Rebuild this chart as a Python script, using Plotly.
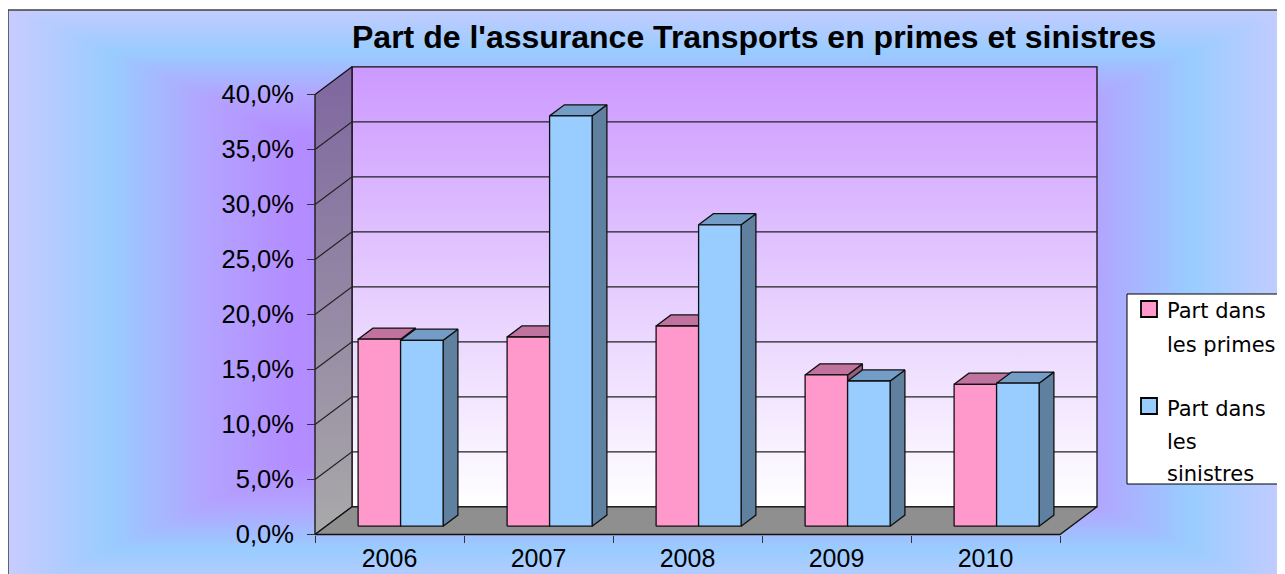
import numpy as np
import plotly.graph_objects as go

# ---------------- data ----------------
years = ["2006", "2007", "2008", "2009", "2010"]
primes = [17.0, 17.2, 18.2, 13.75, 12.9]          # Part dans les primes (%)
sinistres = [16.9, 37.3, 27.4, 13.2, 13.0]        # Part dans les sinistres (%)
ytick_vals = [0, 5, 10, 15, 20, 25, 30, 35, 40]
ytick_text = ["0,0%", "5,0%", "10,0%", "15,0%", "20,0%", "25,0%", "30,0%", "35,0%", "40,0%"]
title_text = "Part de l'assurance Transports en primes et sinistres"
legend_lines_primes = ["Part dans", "les primes"]
legend_lines_sinistres = ["Part dans", "les", "sinistres"]

# ---------------- geometry / style ----------------
PAGE_OFF = 8            # default page margin around the figure
W, H = 1285 - PAGE_OFF, 574 - PAGE_OFF

def px(x):              # page pixel x -> paper fraction
    return (x - PAGE_OFF) / W
def py(y):              # page pixel y -> paper fraction
    return 1 - (y - PAGE_OFF) / H

PXU = 149.0     # pixels per category
PYU = 11.0      # pixels per percent point
X0 = 389.5      # page x of first category centre (front plane)
Y0 = 534.5      # page y of 0% (front plane)
DX = 37.0 / PXU       # full depth offset, x (data units)
DY = 27.7 / PYU       # full depth offset, y (data units)
BAR_W = 42.5 / PXU
F_FRONT = 0.3
F_DEPTH = 0.4
AX_L, AX_R, AX_T, AX_B = 310, 1105, 55, 540
YMAX = ytick_vals[-1]
n = len(years)
XL, XR = -0.5, n - 0.5

PINK, PINK_TOP, PINK_SIDE = "#ff99cc", "#c0739f", "#995c7a"
BLUE, BLUE_TOP, BLUE_SIDE = "#99ccff", "#739cc6", "#6080a0"
EDGE = dict(color="#111111", width=1.3)
AXFONT = dict(family="Liberation Sans, Arial", size=25.5, color="black")
XFONT = dict(family="Liberation Sans, Arial", size=25, color="black")
LEGFONT = dict(family="Comic Sans MS, DejaVu Sans", size=21, color="black")

fig = go.Figure()

# ---------------- outer gradient background (decorative) ----------------
gx = np.linspace(8, 1285, 130)
gy = np.linspace(10, 574, 60)
GX, GY = np.meshgrid(gx, gy)
tt = np.maximum(np.abs(GX - 650) / 650.0, np.abs(GY - 300) / 300.0)
fig.add_trace(go.Heatmap(
    x=gx, y=gy, z=tt, zmin=0, zmax=1, zsmooth="best", showscale=False, hoverinfo="skip",
    colorscale=[[0, "#a680ff"], [0.55, "#b38cff"], [0.68, "#b3a3ff"], [0.83, "#99ccff"], [1, "#ccccff"]],
    xaxis="x", yaxis="y"))

def poly(xs, ys, **kw):
    return go.Scatter(x=xs, y=ys, mode="lines", fill="toself", line=EDGE,
                      hoverinfo="skip", showlegend=False, xaxis="x2", yaxis="y2", **kw)

# back wall
fig.add_trace(poly([XL + DX, XR + DX, XR + DX, XL + DX, XL + DX],
                   [DY, DY, YMAX + DY, YMAX + DY, DY],
                   fillgradient=dict(type="vertical", colorscale=[[0, "#ffffff"], [1, "#cc99ff"]])))
# left wall
fig.add_trace(poly([XL, XL, XL + DX, XL + DX, XL],
                   [0, YMAX, YMAX + DY, DY, 0],
                   fillgradient=dict(type="vertical", colorscale=[[0, "#a9a9a9"], [1, "#7f66a0"]])))
# floor
fig.add_trace(poly([XL, XR, XR + DX, XL + DX, XL], [0, 0, DY, DY, 0], fillcolor="#8f8f8f"))

# gridlines (left wall + back wall)
gxs, gys = [], []
for v in ytick_vals[1:-1]:
    gxs += [XL, XL + DX, XR + DX, None]
    gys += [v, v + DY, v + DY, None]
fig.add_trace(go.Scatter(x=gxs, y=gys, mode="lines", line=dict(color="#222222", width=1.2),
                         hoverinfo="skip", showlegend=False, xaxis="x2", yaxis="y2"))

# ---------------- 3D bars ----------------
def bar_faces(values, shift):
    fx, fy, tx, ty, sx, sy = [], [], [], [], [], []
    b = F_FRONT * DY
    ddx, ddy = F_DEPTH * DX, F_DEPTH * DY
    for i, v in enumerate(values):
        xl = i + F_FRONT * DX + shift
        xr = xl + BAR_W
        top = b + v
        fx += [xl, xr, xr, xl, xl, None]
        fy += [b, b, top, top, b, None]
        tx += [xl, xr, xr + ddx, xl + ddx, xl, None]
        ty += [top, top, top + ddy, top + ddy, top, None]
        sx += [xr, xr, xr + ddx, xr + ddx, xr, None]
        sy += [b, top, top + ddy, b + ddy, b, None]
    return (fx, fy), (tx, ty), (sx, sy)

for vals, shift, cf, ct, cs in [(primes, -BAR_W, PINK, PINK_TOP, PINK_SIDE),
                                (sinistres, 0.0, BLUE, BLUE_TOP, BLUE_SIDE)]:
    front, topf, side = bar_faces(vals, shift)
    fig.add_trace(poly(side[0], side[1], fillcolor=cs))
    fig.add_trace(poly(topf[0], topf[1], fillcolor=ct))
    fig.add_trace(poly(front[0], front[1], fillcolor=cf))

# ---------------- layout ----------------
xr2 = [(AX_L - X0) / PXU, (AX_R - X0) / PXU]
yr2 = [(Y0 - AX_B) / PYU, (Y0 - AX_T) / PYU]

fig.update_layout(
    width=W, height=H, autosize=False,
    margin=dict(l=0, r=0, t=0, b=0, pad=0, autoexpand=False),
    paper_bgcolor="white", plot_bgcolor="rgba(0,0,0,0)",
    showlegend=False,
    xaxis=dict(domain=[px(8), 1], range=[8, 1285], visible=False, fixedrange=True, automargin=False),
    yaxis=dict(domain=[0, py(10)], range=[574, 10], visible=False, fixedrange=True, automargin=False),
    xaxis2=dict(domain=[px(AX_L), px(AX_R)], range=xr2, anchor="free", position=py(Y0),
                tickmode="array", tickvals=list(range(n)), ticktext=years, ticks="",
                minor=dict(tickvals=[i - 0.5 for i in range(n + 1)], ticks="outside",
                           ticklen=7, tickcolor="#333333", tickwidth=1.2),
                showgrid=False, zeroline=False, showline=False, automargin=False,
                tickfont=XFONT, ticklabelstandoff=6),
    yaxis2=dict(domain=[py(AX_B), py(AX_T)], range=yr2, anchor="free", position=px(315),
                tickmode="array", tickvals=ytick_vals, ticktext=ytick_text,
                ticks="outside", ticklen=8, tickcolor="#333333", tickwidth=1.2,
                showgrid=False, zeroline=False, showline=False, automargin=False,
                tickfont=AXFONT, ticklabelstandoff=8),
)

# outer frame lines
fig.add_shape(type="line", xref="paper", yref="paper", x0=px(8), y0=py(10), x1=1.01, y1=py(10),
              line=dict(color="#404040", width=1.5))
fig.add_shape(type="line", xref="paper", yref="paper", x0=px(8), y0=py(10), x1=px(8), y1=-0.01,
              line=dict(color="#404040", width=1.5))

# title
fig.add_annotation(text="<b>" + title_text + "</b>", xref="paper", yref="paper",
                   x=px(753.5), y=py(37), xanchor="center", yanchor="middle", showarrow=False,
                   font=dict(family="Liberation Sans, Arial", size=32, color="black"))

# legend box (manual, to match the wrapped Excel legend)
fig.add_shape(type="rect", xref="paper", yref="paper", x0=px(1127), x1=px(1292), y0=py(294), y1=py(484),
              fillcolor="white", line=dict(color="black", width=1))
for (y0s, y1s), col in [((301, 317), PINK), ((398, 414), BLUE)]:
    fig.add_shape(type="rect", xref="paper", yref="paper", x0=px(1141), x1=px(1157),
                  y0=py(y1s), y1=py(y0s), fillcolor=col, line=dict(color="black", width=1.8))
for lines, ys in [(legend_lines_primes, [311, 344.5]), (legend_lines_sinistres, [408.5, 442, 474])]:
    for txt, yy in zip(lines, ys):
        fig.add_annotation(text=txt, xref="paper", yref="paper", x=px(1165), y=py(yy),
                           xanchor="left", yanchor="middle", showarrow=False, font=LEGFONT)

fig.write_html("out.html")
